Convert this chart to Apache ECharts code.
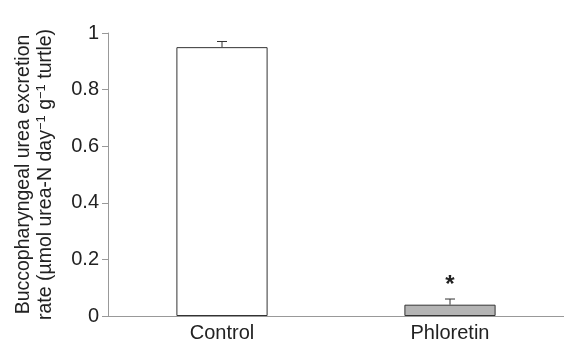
<!DOCTYPE html>
<html>
<head>
<meta charset="utf-8">
<script src="https://cdn.jsdelivr.net/npm/echarts@6/dist/echarts.min.js"></script>
<style>
  html, body { margin:0; padding:0; background:#fff; }
  #chart { width:564px; height:347px; }
</style>
</head>
<body>
<div id="chart"></div>
<script>
// data
const categories = ['Control', 'Phloretin'];
const rates      = [0.95, 0.04];
const sem        = [0.02, 0.02];
const marks      = ['', '*'];
const fills      = ['#ffffff', '#b4b4b4'];

const chart = echarts.init(document.getElementById('chart'));
const FONT = '"Liberation Sans", Arial, sans-serif';

// error bar (upper whisker only) + significance star
function errItem(params, api) {
  const i = api.value(0);
  const base = api.coord([i, api.value(1)]);
  const top = api.coord([i, api.value(1) + api.value(2)]);
  const cap = 5;
  const kids = [
    { type:'line', shape:{x1:base[0], y1:base[1], x2:top[0], y2:top[1]}, style:{stroke:'#333', lineWidth:1} },
    { type:'line', shape:{x1:top[0]-cap, y1:top[1], x2:top[0]+cap, y2:top[1]}, style:{stroke:'#333', lineWidth:1} }
  ];
  const m = marks[params.dataIndex];
  if (m) kids.push({ type:'text', x:top[0], y:top[1]-2,
    style:{ text:m, fill:'#222', font:'bold 24px ' + FONT, align:'center', verticalAlign:'bottom' } });
  return { type:'group', children:kids };
}

chart.setOption({
  animation: false,
  backgroundColor: '#fff',
  grid: { left:108, right:0, top:33, bottom:31, outerBoundsMode:'none' },
  xAxis: {
    type:'category', data:categories,
    axisLine:{ lineStyle:{ color:'#999', width:1 } },
    axisTick:{ show:false },
    axisLabel:{ color:'#222', fontSize:20, fontFamily:FONT, margin:7 }
  },
  yAxis: {
    type:'value', min:0, max:1, interval:0.2,
    name:'Buccopharyngeal urea excretion\nrate (µmol urea-N day{s|−1} g{s|−1} turtle)',
    nameLocation:'middle', nameRotate:90, nameGap:51,
    nameTextStyle:{ color:'#222', fontSize:19.5, fontFamily:FONT, lineHeight:22,
      rich:{ s:{ fontSize:13, fontFamily:FONT, color:'#222', verticalAlign:'top', lineHeight:22 } } },
    axisLine:{ show:true, lineStyle:{ color:'#999', width:1 } },
    axisTick:{ show:true, length:6, lineStyle:{ color:'#999' } },
    axisLabel:{ color:'#222', fontSize:20, fontFamily:FONT, margin:9,
      formatter: v => String(Math.round(v * 10) / 10) },
    splitLine:{ show:false }
  },
  series: [
    {
      type:'bar', barWidth:'40%',
      data: rates.map((v, i) => ({ value:v, itemStyle:{ color:fills[i] } })),
      itemStyle:{ borderColor:'#333', borderWidth:1 }
    },
    {
      type:'custom', renderItem:errItem, z:5,
      data: rates.map((v, i) => [i, v, sem[i]])
    }
  ]
});
</script>
</body>
</html>
